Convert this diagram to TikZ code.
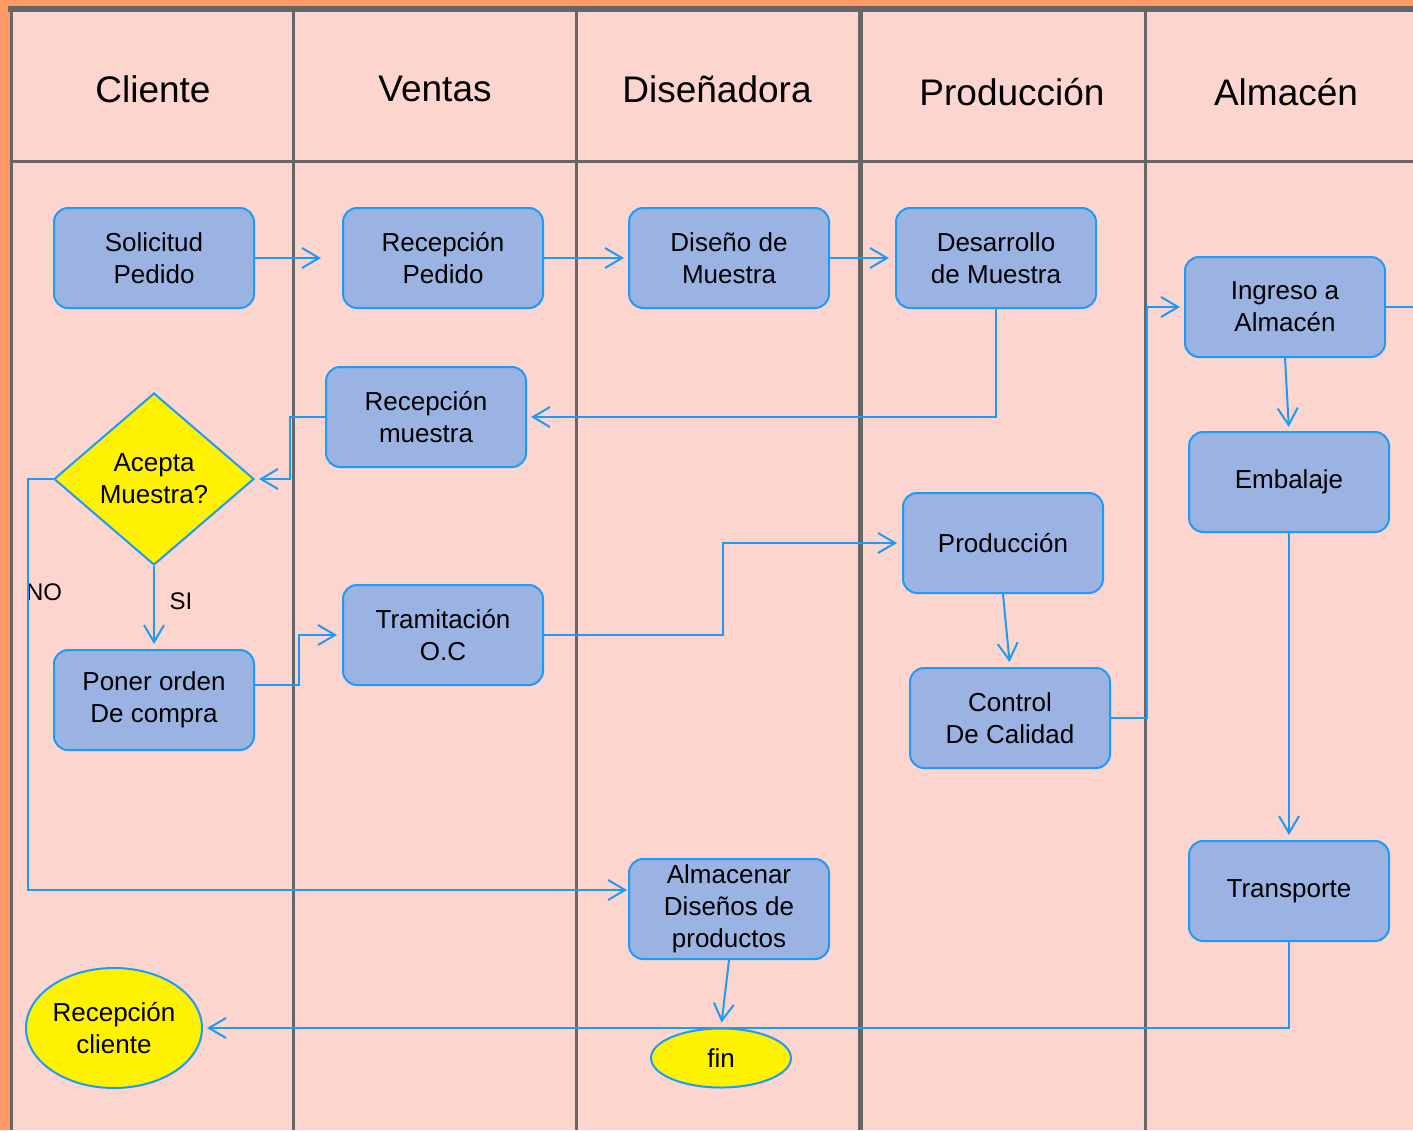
\documentclass[tikz,border=0pt]{standalone}
\usepackage{fontspec}
\setmainfont{Liberation Sans}
\usetikzlibrary{shapes.geometric,arrows.meta}
\definecolor{orangebg}{HTML}{FF9966}
\definecolor{pinkbg}{HTML}{FCD5CE}
\definecolor{lanegray}{HTML}{666666}
\definecolor{boxfill}{HTML}{9AB3E3}
\definecolor{boxline}{HTML}{1E9BF5}
\tikzset{
  proc/.style={draw=boxline, line width=2pt, fill=boxfill, rounded corners=14pt,
    minimum width=200pt, minimum height=100pt, inner sep=0pt, align=center,
    font=\fontsize{26}{32}\selectfont},
  decis/.style={draw=boxline, line width=2pt, fill=yellow, diamond, aspect=1.163,
    minimum width=200pt, minimum height=172pt, inner sep=0pt, align=center,
    font=\fontsize{26}{32}\selectfont},
  term/.style={draw=boxline, line width=2pt, fill=yellow, ellipse, inner sep=0pt,
    align=center, font=\fontsize{26}{32}\selectfont},
  head/.style={font=\fontsize{37}{44}\selectfont, inner sep=0pt},
  lbl/.style={font=\fontsize{24}{28}\selectfont, inner sep=0pt},
  flow/.style={draw=boxline, line width=2pt,
    -{Straight Barb[length=17pt,width=20pt,line width=2pt]}},
  lane/.style={draw=lanegray, line width=3pt},
}
\begin{document}
\begin{tikzpicture}[x=1pt,y=-1pt]
\useasboundingbox (0,0) rectangle (1413,1130);
\fill[orangebg] (0,0) rectangle (1413,1130);
\fill[pinkbg] (11,9) rectangle (1413,1130);
% frame and lanes
\draw[lanegray, line width=6pt] (8,9) -- (1413,9);
\draw[lane] (11,9) -- (11,1130);
\draw[lane] (11,161) -- (1413,161);
\draw[lane] (293,9) -- (293,1130);
\draw[lane] (576,9) -- (576,1130);
\draw[lanegray, line width=5pt] (860,9) -- (860,1130);
\draw[lane] (1145,9) -- (1145,1130);
% headers
\node[head] (hcli) at (153,89) {Cliente};
\node[head] (hven) at (435,89) {Ventas};
\node[head] (hdis) at (717,89) {Diseñadora};
\node[head] (hpro) at (1012,92) {Producción};
\node[head] (halm) at (1286,92) {Almacén};
% nodes
\node[proc] (sol) at (154,258) {Solicitud\\Pedido};
\node[proc] (recp) at (443,258) {Recepción\\Pedido};
\node[proc] (dis) at (729,258) {Diseño de\\Muestra};
\node[proc] (des) at (996,258) {Desarrollo\\de Muestra};
\node[proc] (ing) at (1285,307) {Ingreso a\\Almacén};
\node[proc] (recm) at (426,417) {Recepción\\muestra};
\node[decis] (acep) at (154,479) {Acepta\\Muestra?};
\node[proc] (emb) at (1289,482) {Embalaje};
\node[proc] (prod) at (1003,543) {Producción};
\node[proc] (tram) at (443,635) {Tramitación\\O.C};
\node[proc] (pon) at (154,700) {Poner orden\\De compra};
\node[proc] (ctrl) at (1010,718) {Control\\De Calidad};
\node[proc] (alm) at (729,909) {Almacenar\\Diseños de\\productos};
\node[proc] (trans) at (1289,891) {Transporte};
\node[term, minimum width=176pt, minimum height=120pt] (rcli) at (114,1028) {Recepción\\cliente};
\node[term, minimum width=140pt, minimum height=59pt] (fin) at (721,1058) {fin};
\coordinate (ingout) at (1413,307);
% labels
\node[lbl] (lno) at (44,592) {NO};
\node[lbl] (lsi) at (181,601) {SI};
% connectors
\draw[flow, shorten >=21pt] (sol.east) -- (recp.west);
\draw[flow, shorten >=4pt] (recp.east) -- (dis.west);
\draw[flow, shorten >=6pt] (dis.east) -- (des.west);
\draw[flow, shorten >=4pt] (des.south) |- (recm.east);
\draw[flow, shorten >=4pt] (recm.west) -- ++(-35,0) |- (acep.east);
\draw[flow, shorten >=5pt] (acep.south) -- (pon.north);
\draw[flow, shorten >=1pt] (acep.west) -- (28,479) |- ([yshift=19pt]alm.west);
\draw[flow, shorten >=5pt] ([yshift=15pt]pon.east) -- ++(44,0) |- (tram.west);
\draw[flow, shorten >=5pt] (tram.east) -- (723,635) |- (prod.west);
\draw[flow, shorten >=5pt] (prod.south) -- (ctrl.north);
\draw[flow, shorten >=4pt] (ctrl.east) -- (1147,718) |- (ing.west);
\draw[flow, shorten >=4pt] (ing.south) -- (emb.north);
\draw[flow, shorten >=5pt] (emb.south) -- (trans.north);
\draw[flow, shorten >=4pt] (trans.south) |- (rcli.east);
\draw[flow, shorten >=5pt] (alm.south) -- (fin.north);
\draw[draw=boxline, line width=2pt] (ing.east) -- (ingout);
\end{tikzpicture}
\end{document}
